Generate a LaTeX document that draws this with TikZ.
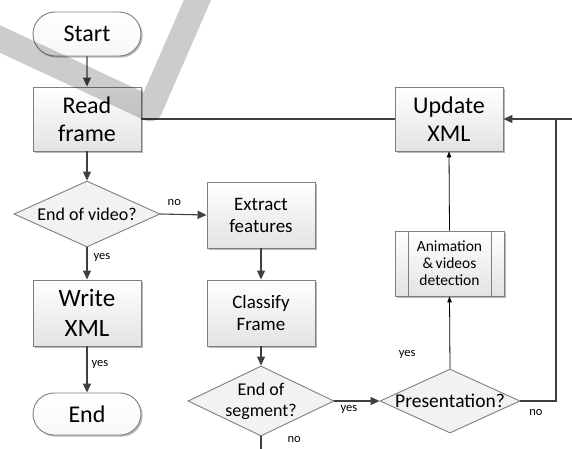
\documentclass[tikz,border=0pt]{standalone}
\usepackage{fontspec}
\setmainfont{Carlito}
\usetikzlibrary{shapes.geometric,shapes.misc,arrows.meta,shadows}

\definecolor{edgegray}{HTML}{7F7F7F}
\definecolor{linkgray}{HTML}{404040}

\tikzset{
  boxshadow/.style={drop shadow={shadow xshift=1.6pt,shadow yshift=-1.6pt,fill=black,opacity=.28}},
  procbox/.style={rectangle, draw=edgegray, line width=0.9pt, top color=white, bottom color=gray!22,
    minimum width=108pt, align=center, inner sep=0pt, boxshadow},
  termbox/.style={rounded rectangle, draw=edgegray, line width=0.9pt, top color=white, bottom color=gray!6,
    minimum width=108pt, inner sep=0pt, boxshadow},
  decision/.style={diamond, draw=edgegray, line width=0.9pt, fill=gray!10, inner sep=0pt},
  dectext/.style={align=center, inner sep=0pt},
  flow/.style={draw=linkgray, line width=1.1pt, -{Triangle[length=9pt,width=8pt]}},
  plainlink/.style={draw=linkgray, line width=1.1pt},
  thinflow/.style={draw=black, line width=0.8pt, -{Triangle[length=6pt,width=4.5pt]}},
  tag/.style={font=\fontsize{12.5}{14}\selectfont, inner sep=0pt},
  big/.style={font=\fontsize{24}{28}\selectfont},
  mid/.style={font=\fontsize{19}{22}\selectfont},
}

\begin{document}
\begin{tikzpicture}[x=1pt,y=-1pt]
\useasboundingbox[fill=white] (0,0) rectangle (572,448);

% left column
\node[termbox, big, minimum height=44pt] (start) at (87,34) {Start};
\node[procbox, big, minimum height=64pt] (read) at (87,119) {Read\\frame};
\node[decision, minimum width=146pt, minimum height=66pt,
      label={[dectext, font=\fontsize{18}{21}\selectfont]center:End of video?}] (vidend) at (87,214) {};
\node[procbox, font=\fontsize{25}{30}\selectfont, minimum height=66pt] (write) at (87,313) {Write\\XML};
\node[termbox, big, minimum height=42pt] (finish) at (87,414) {End};

% middle column
\node[procbox, mid, minimum height=66pt] (extract) at (261,215) {Extract\\features};
\node[procbox, mid, minimum height=66pt] (classify) at (261,313) {Classify\\Frame};
\node[decision, minimum width=146pt, minimum height=70pt,
      label={[dectext, font=\fontsize{18}{21}\selectfont]center:End of\\segment?}] (segend) at (261,401) {};
\coordinate (segout) at (261,452);

% right column
\node[procbox, big, minimum height=64pt] (update) at (449,119) {Update\\XML};
\node[procbox, font=\fontsize{15.5}{17}\selectfont, minimum width=109pt, minimum height=65pt,
      path picture={
        \draw[edgegray, line width=0.9pt]
          ([xshift=13pt]path picture bounding box.north west) -- ([xshift=13pt]path picture bounding box.south west)
          ([xshift=-13pt]path picture bounding box.north east) -- ([xshift=-13pt]path picture bounding box.south east);
      }] (anim) at (449.5,263.5) {Animation\\\&\,videos\\detection};
\node[decision, minimum width=140pt, minimum height=64pt,
      label={[dectext, font=\fontsize{19.5}{22}\selectfont]center:Presentation?}] (present) at (450,401) {};

\coordinate (loopcorner) at (556,401);
\coordinate (looptop) at (556,119);
\coordinate (rightedge) at (576,119);

% connectors
\draw[flow] (start) -- (read);
\draw[plainlink] (read.east) -- (update.west);
\draw[flow] (read) -- (vidend.north);
\draw[flow] (vidend.east) -- node[tag, pos=0.3, above=8pt] {no} (extract.west);
\draw[flow] (vidend.south) -- node[tag, pos=0.3, right=6pt] {yes} (write.north);
\draw[flow] (write) -- node[tag, pos=0.4, right=4pt] {yes} (finish);
\draw[flow] (extract) -- (classify);
\draw[flow] (classify) -- (segend.north);
\draw[plainlink] (segend.south) -- node[tag, pos=0.2, right=26pt] {no} (segout);
\draw[flow] (segend.east) -- node[tag, pos=0.32, below=4pt] {yes} (present.west);
\draw[thinflow] (present.north) -- node[tag, pos=0.2, left=34pt] {yes} (anim.south);
\draw[thinflow] (anim.north) -- (update.south);
\draw[plainlink] (present.east) -- (loopcorner) -- (looptop);
\draw[flow] (rightedge) -- (update.east);
\node[tag] (noloop) at (536,413) {no};

% faint grey band over the upper left corner
\begin{scope}
  \clip (0,0) rectangle (572,448);
  \draw[line width=25pt, black, opacity=.2, line join=round] (-30,25) -- (150,109) -- (204,-15);
\end{scope}
\end{tikzpicture}
\end{document}
